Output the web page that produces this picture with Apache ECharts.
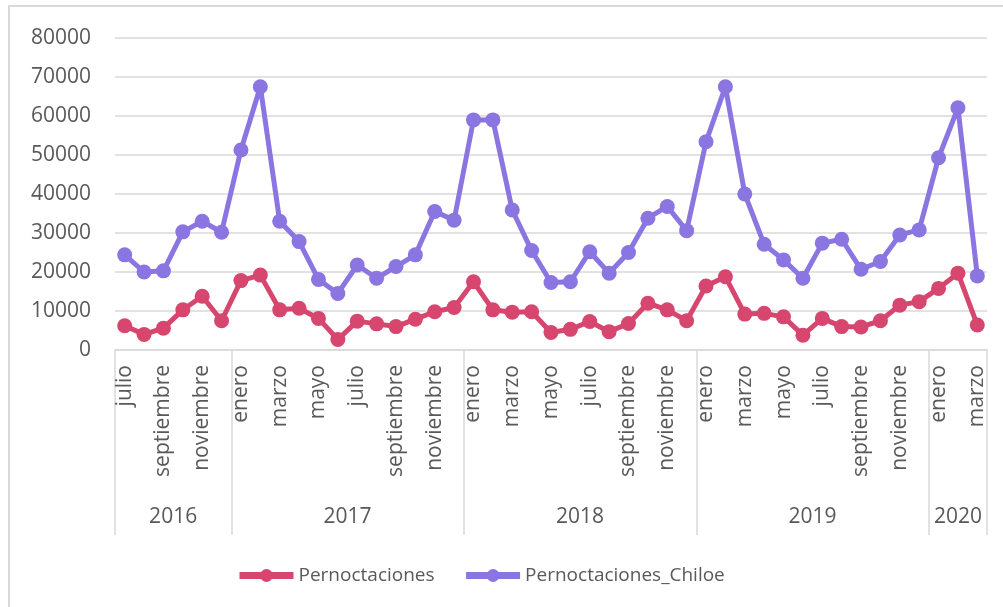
<!DOCTYPE html>
<html>
<head>
<meta charset="utf-8">
<script src="https://cdn.jsdelivr.net/npm/echarts@6/dist/echarts.min.js"></script>
<style>
  html, body { margin: 0; padding: 0; background: #fff; }
  #chart { width: 1003px; height: 607px; }
</style>
</head>
<body>
<div id="chart"></div>
<script>
// months jul 2016 .. mar 2020
var monthNames = ['enero', 'febrero', 'marzo', 'abril', 'mayo', 'junio',
  'julio', 'agosto', 'septiembre', 'octubre', 'noviembre', 'diciembre'];
var months = [];
for (var m = 6; m < 6 + 45; m++) {
  months.push(monthNames[m % 12]);
}

// year groups: label, first month index, month count
var years = ['2016', '2017', '2018', '2019', '2020'];
var yearStarts = [0, 6, 18, 30, 42];
var yearLengths = [6, 12, 12, 12, 3];

var pernoctaciones = [
  6200, 4000, 5600, 10300, 13800, 7500,
  17800, 19200, 10300, 10700, 8100, 2700, 7400, 6700, 6000, 7900, 9800, 10900,
  17500, 10300, 9700, 9800, 4500, 5300, 7300, 4700, 6800, 12000, 10300, 7500,
  16400, 18800, 9200, 9400, 8500, 3800, 8100, 6000, 5900, 7500, 11500, 12400,
  15800, 19700, 6400
];

var pernoctacionesChiloe = [
  24400, 20000, 20300, 30300, 33000, 30200,
  51300, 67500, 33000, 27800, 18100, 14500, 21800, 18400, 21400, 24400, 35500, 33300,
  59000, 59000, 35900, 25500, 17300, 17500, 25200, 19700, 25000, 33800, 36800, 30600,
  53400, 67500, 40000, 27100, 23100, 18400, 27400, 28400, 20700, 22700, 29500, 30800,
  49300, 62100, 19000
];

var yTicks = [0, 10000, 20000, 30000, 40000, 50000, 60000, 70000, 80000];

var gridColor = '#d9d9d9';
var textColor = '#595959';
var font = '"Open Sans", "Liberation Sans", sans-serif';

// year separators and centers on a 0..45 value scale
var separators = yearStarts.slice();
separators.push(months.length);
var yearCenters = [];
for (var i = 0; i < years.length; i++) {
  yearCenters.push(yearStarts[i] + yearLengths[i] / 2);
}

var chart = echarts.init(document.getElementById('chart'));

chart.setOption({
  animation: false,
  textStyle: { fontFamily: font },
  color: ['#D6466F', '#8A75E1'],
  graphic: [{
    type: 'rect',
    shape: { x: 9, y: 6, width: 1000, height: 620 },
    style: { fill: 'none', stroke: gridColor, lineWidth: 2 },
    silent: true
  }],
  grid: {
    left: 115,
    right: 16,
    top: 38,
    bottom: 257
  },
  legend: {
    left: 231,
    top: 561,
    itemWidth: 54,
    itemHeight: 16,
    itemGap: 28,
    lineStyle: { width: 7 },
    textStyle: { fontSize: 19, color: textColor, fontFamily: font },
    data: ['Pernoctaciones', 'Pernoctaciones_Chiloe']
  },
  xAxis: [{
    type: 'category',
    data: months,
    boundaryGap: true,
    axisLine: { lineStyle: { color: gridColor, width: 1.5 } },
    axisTick: { show: false },
    axisLabel: {
      interval: 1,
      rotate: 90,
      margin: 15,
      fontSize: 21,
      color: textColor,
      fontFamily: font
    }
  }, {
    type: 'value',
    min: 0,
    max: months.length,
    position: 'bottom',
    axisLine: { show: false },
    splitLine: { show: false },
    axisTick: {
      show: true,
      customValues: separators,
      length: 185,
      lineStyle: { color: gridColor, width: 1.5 }
    },
    axisLabel: {
      customValues: yearCenters,
      margin: 157,
      fontSize: 21,
      color: textColor,
      fontFamily: font,
      formatter: function (v) {
        var k = yearCenters.indexOf(v);
        return k >= 0 ? years[k] : '';
      }
    }
  }],
  yAxis: {
    type: 'value',
    min: yTicks[0],
    max: yTicks[yTicks.length - 1],
    interval: yTicks[1] - yTicks[0],
    axisLine: { show: false },
    axisTick: { show: false },
    axisLabel: {
      margin: 24,
      fontSize: 21,
      color: textColor,
      fontFamily: font,
      formatter: function (v) { return String(v); }
    },
    splitLine: { lineStyle: { color: gridColor, width: 1.5 } }
  },
  series: [{
    name: 'Pernoctaciones',
    type: 'line',
    xAxisIndex: 0,
    data: pernoctaciones,
    symbol: 'circle',
    symbolSize: 15,
    showAllSymbol: true,
    lineStyle: { width: 5 }
  }, {
    name: 'Pernoctaciones_Chiloe',
    type: 'line',
    xAxisIndex: 0,
    data: pernoctacionesChiloe,
    symbol: 'circle',
    symbolSize: 15,
    showAllSymbol: true,
    lineStyle: { width: 5 }
  }]
});
</script>
</body>
</html>
